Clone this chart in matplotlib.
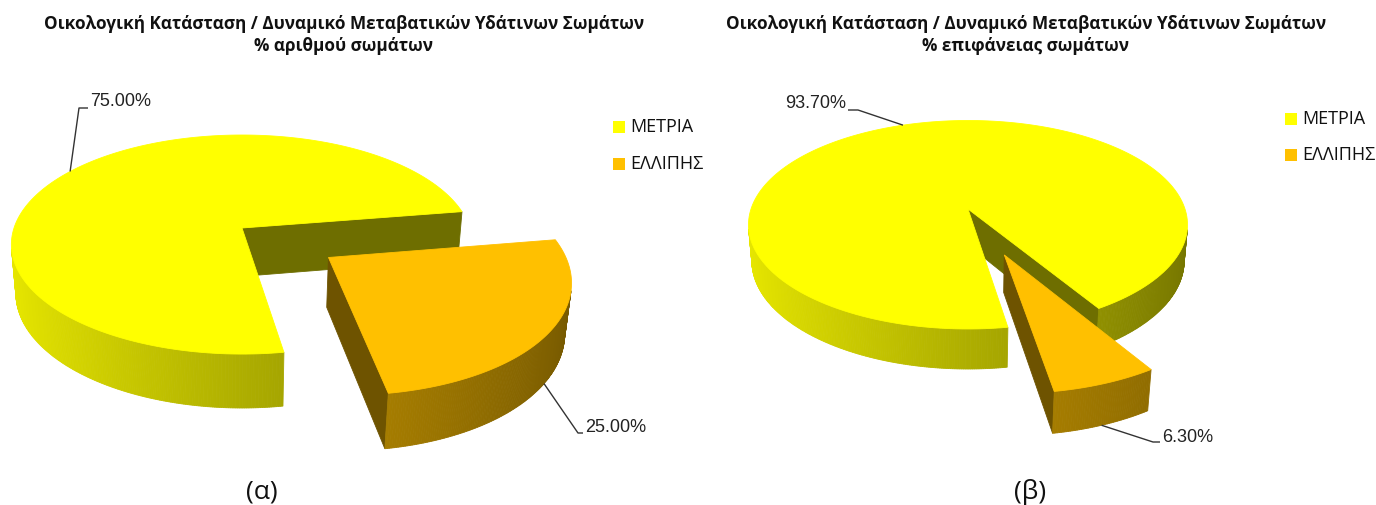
import numpy as np
import matplotlib
matplotlib.use("Agg")
import matplotlib.pyplot as plt
from matplotlib.patches import Polygon
from matplotlib.colors import to_rgb

# Οικολογική κατάσταση μεταβατικών υδάτινων σωμάτων
categories = ["ΜΕΤΡΙΑ", "ΕΛΛΙΠΗΣ"]
pct_count = [75.00, 25.00]   # % αριθμού σωμάτων
pct_area = [93.70, 6.30]     # % επιφάνειας σωμάτων
slice_colors = ["#FFFF00", "#FFC000"]
explode = [0.0, 0.45]
titles = [
    "Οικολογική Κατάσταση / Δυναμικό Μεταβατικών Υδάτινων Σωμάτων\n% αριθμού σωμάτων",
    "Οικολογική Κατάσταση / Δυναμικό Μεταβατικών Υδάτινων Σωμάτων\n% επιφάνειας σωμάτων",
]
captions = ["(α)", "(β)"]

W, H = 1376, 505
ELEV = np.radians(28)     # tilt of the pie plane
DIST = 5.85               # camera distance, in pie radii
START = 279               # first slice angle (math degrees), slices run clockwise
CAM = np.array([0.0, -DIST * np.cos(ELEV), DIST * np.sin(ELEV)])

fig = plt.figure(figsize=(W / 100, H / 100), dpi=100)
ax = fig.add_axes([0, 0, 1, 1])
ax.set_xlim(0, W)
ax.set_ylim(H, 0)
ax.axis("off")


def project(pie, x, y, z):
    s, c = np.sin(ELEV), np.cos(ELEV)
    x, y, z = np.asarray(x, float), np.asarray(y, float), np.asarray(z, float)
    k = pie["scale"] * DIST / (DIST + y * c - z * s)
    return np.column_stack([pie["cx"] + k * x, pie["cy"] - k * (y * s + z * c)])


def facing(normal, point):
    return np.dot(normal, CAM - np.asarray(point)) > 0


def shade(rgb, f):
    return tuple(np.clip(np.array(rgb) * f, 0, 1))


def side_light(t):
    return 0.46 + 0.45 * (1 - np.cos(np.radians(t))) / 2


def slice_geometry(values):
    fr = np.asarray(values, float) / sum(values)
    hi = START - 360 * np.concatenate([[0], np.cumsum(fr)[:-1]])
    lo = hi - 360 * fr
    out = []
    for i in range(len(values)):
        mid = np.radians((lo[i] + hi[i]) / 2)
        out.append(dict(lo=lo[i], hi=hi[i],
                        ox=explode[i] * np.cos(mid), oy=explode[i] * np.sin(mid)))
    return out


def rim_point(pie, sl, t, bottom=False):
    r = np.radians(t)
    z = -pie["h"] if bottom else 0.0
    return project(pie, [sl["ox"] + np.cos(r)], [sl["oy"] + np.sin(r)], [z])[0]


def draw_slice(pie, sl, color):
    h = pie["h"]
    rgb = to_rgb(color)
    ox, oy = sl["ox"], sl["oy"]
    # radial cut faces
    for ang, nd in ((sl["lo"], sl["lo"] - 90), (sl["hi"], sl["hi"] + 90)):
        r, n = np.radians(ang), np.radians(nd)
        normal = np.array([np.cos(n), np.sin(n), 0.0])
        mid = [ox + 0.5 * np.cos(r), oy + 0.5 * np.sin(r), -h / 2]
        if not facing(normal, mid):
            continue
        xs = [ox, ox + np.cos(r), ox + np.cos(r), ox]
        ys = [oy, oy + np.sin(r), oy + np.sin(r), oy]
        zs = [0, 0, -h, -h]
        ax.add_patch(Polygon(project(pie, xs, ys, zs), closed=True,
                             facecolor=shade(rgb, 0.43), edgecolor=shade(rgb, 0.43),
                             lw=0.6))
    # curved outer side, drawn in thin strips
    ts = np.linspace(sl["lo"], sl["hi"], int(abs(sl["hi"] - sl["lo"]) * 2) + 2)
    for t0, t1 in zip(ts[:-1], ts[1:]):
        tm = np.radians((t0 + t1) / 2)
        normal = np.array([np.cos(tm), np.sin(tm), 0.0])
        if not facing(normal, [ox + np.cos(tm), oy + np.sin(tm), -h / 2]):
            continue
        r0, r1 = np.radians(t0), np.radians(t1)
        xs = ox + np.cos([r0, r1, r1, r0])
        ys = oy + np.sin([r0, r1, r1, r0])
        col = shade(rgb, side_light((t0 + t1) / 2))
        ax.add_patch(Polygon(project(pie, xs, ys, [0, 0, -h, -h]), closed=True,
                             facecolor=col, edgecolor=col, lw=0.6))
    # top face
    tt = np.radians(np.linspace(sl["lo"], sl["hi"], 200))
    xs = np.concatenate([[ox], ox + np.cos(tt)])
    ys = np.concatenate([[oy], oy + np.sin(tt)])
    ax.add_patch(Polygon(project(pie, xs, ys, np.zeros(len(xs))), closed=True,
                         facecolor=rgb, edgecolor=rgb, lw=0.6))


def draw_pie(pie, values):
    geo = slice_geometry(values)
    order = sorted(range(len(values)), key=lambda i: explode[i])
    for i in order:
        draw_slice(pie, geo[i], slice_colors[i])
    return geo


def leader(anchor, elbow, end, text, text_xy):
    ax.plot([anchor[0], elbow[0], end[0]], [anchor[1], elbow[1], end[1]],
            color="#333333", lw=1.0, solid_capstyle="butt")
    ax.text(*text_xy, text, fontsize=13, family=["Liberation Sans", "DejaVu Sans"],
            color="#222222", ha="left", va="center")


pie_a = dict(cx=242, cy=228, scale=228, h=0.245)
pie_b = dict(cx=968, cy=209, scale=217, h=0.19)

geo_a = draw_pie(pie_a, pct_count)
geo_b = draw_pie(pie_b, pct_area)

# value labels with leader lines
p = rim_point(pie_a, geo_a[0], 145)
leader(p, (79, 108), (88, 108), f"{pct_count[0]:.2f}%", (90, 101))
p = rim_point(pie_a, geo_a[1], -35, bottom=True)
leader(p, (578, 433), (583, 433), f"{pct_count[1]:.2f}%", (585, 428))
p = rim_point(pie_b, geo_b[0], 110)
leader(p, (858, 110), (848, 110), f"{pct_area[0]:.2f}%", (785, 103))
p = rim_point(pie_b, geo_b[1], -70, bottom=True)
leader(p, (1153, 442), (1160, 442), f"{pct_area[1]:.2f}%", (1162, 438))

# legends
font = ["Open Sans", "DejaVu Sans"]
for lx, ly0, dy in ((619, 127, 37), (1291, 119, 36)):
    for j, name in enumerate(categories):
        y = ly0 + j * dy
        ax.scatter([lx], [y], marker="s", s=70, color=slice_colors[j], edgecolors="none")
        ax.text(lx + 11, y, name, fontsize=13, family=font, color="#111111",
                ha="left", va="center")

# titles and captions
for tx, title in ((344, titles[0]), (1026, titles[1])):
    ax.text(tx, 35, title, fontsize=12.3, family=font, weight="bold",
            ha="center", va="center", linespacing=1.3, color="#111111")
for cx, cap in ((262, captions[0]), (1030, captions[1])):
    ax.text(cx, 492, cap, fontsize=19, family=font, ha="center", va="center",
            color="#111111")

fig.savefig("out.png", dpi=100)
